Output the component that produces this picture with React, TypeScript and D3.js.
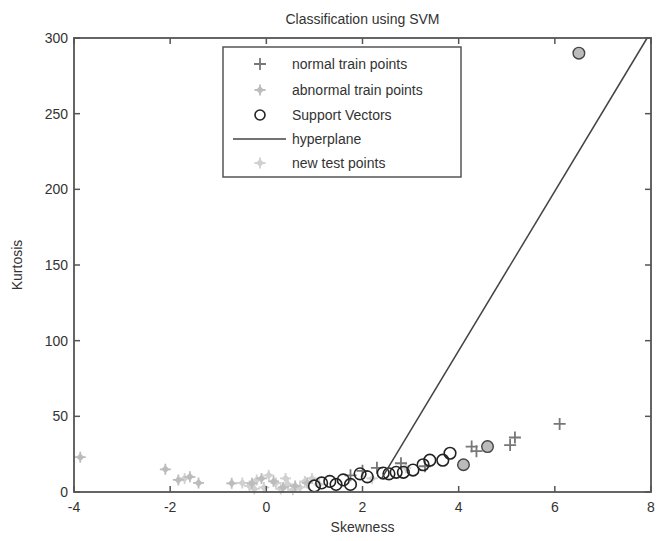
import React from "react";
import * as d3 from "d3";

const xTicks = [-4, -2, 0, 2, 4, 6, 8];
const yTicks = [0, 50, 100, 150, 200, 250, 300];

const normalTrain: [number, number][] = [
  [2.0, 14], [2.3, 16], [2.8, 19], [3.3, 17], [4.27, 30], [4.37, 27],
  [5.07, 31], [5.17, 36], [6.1, 45], [1.75, 11],
];

const abnormalTrain: [number, number][] = [
  [-3.87, 23], [-2.1, 15], [-1.83, 8], [-1.59, 10], [-1.41, 6],
  [-0.72, 5.7], [-0.3, 5.7], [-0.1, 9], [0.15, 7], [0.35, 3], [0.6, 4],
  [0.85, 6],
];

const newTest: [number, number][] = [
  [-0.5, 6], [-0.35, 4], [-0.2, 8], [-0.05, 3], [0.05, 11], [0.2, 6],
  [0.3, 2], [0.45, 5], [0.55, 1.5], [0.7, 3], [0.8, 7], [0.95, 9],
  [1.1, 5], [-1.7, 9], [2.2, 9], [2.9, 16], [0.4, 9], [-0.25, 2],
];

const supportVectors: [number, number][] = [
  [1.0, 4], [1.15, 6], [1.32, 7], [1.45, 5], [1.6, 8], [1.75, 5],
  [1.95, 12], [2.1, 10], [2.43, 12.5], [2.55, 12], [2.7, 13], [2.85, 13],
  [3.05, 14.5], [3.26, 18], [3.4, 21], [3.67, 21], [3.82, 25.6],
];

const filledCircles: [number, number][] = [
  [4.1, 18], [4.6, 30], [6.5, 290],
];

const hyperplane: [number, number][] = [
  [2.4, 9], [7.92, 300],
];

const W = 661;
const H = 541;
const left = 74, right = 651, top = 38, bottom = 492;
const axisColor = "#555";
const textColor = "#333";
const font = "'Liberation Sans', Arial, sans-serif";

function Plus({ x, y, color }: { x: number; y: number; color: string }) {
  const s = 6;
  return (
    <path d={`M${x - s},${y}H${x + s}M${x},${y - s}V${y + s}`} stroke={color} strokeWidth={1.8} fill="none" />
  );
}

function Star({ x, y, color }: { x: number; y: number; color: string }) {
  const s = 5.5;
  const d = 3.5;
  return (
    <g>
      <path d={`M${x},${y - d - 0.5}L${x + d + 0.5},${y}L${x},${y + d + 0.5}L${x - d - 0.5},${y}Z`} fill={color} stroke="none" />
      <path
        d={`M${x - s},${y}H${x + s}M${x},${y - s}V${y + s}`}
        stroke={color}
        strokeWidth={1.8}
        fill="none"
      />
    </g>
  );
}

export default function App() {
  const x = d3.scaleLinear().domain([-4, 8]).range([left, right]);
  const y = d3.scaleLinear().domain([0, 300]).range([bottom, top]);
  const line = d3.line<[number, number]>().x((d) => x(d[0])).y((d) => y(d[1]));

  const lx = 223, ly = 47, lw = 238, lh = 130;
  const rows = [64, 90, 115, 139, 163];
  const mx = 260, tx = 292;

  return (
    <svg width={W} height={H} style={{ position: "absolute", left: 0, top: 0, background: "#fff" }} fontFamily={font}>
      <rect x={0} y={0} width={W} height={H} fill="#fff" />
      <text x={(left + right) / 2} y={24} textAnchor="middle" fontSize={14} fill={textColor}>
        Classification using SVM
      </text>

      {/* data */}
      <g>
        {newTest.map((d, i) => (
          <Star key={"t" + i} x={x(d[0])} y={y(d[1])} color="#d0d0d0" />
        ))}
        {abnormalTrain.map((d, i) => (
          <Star key={"a" + i} x={x(d[0])} y={y(d[1])} color="#bcbcbc" />
        ))}
        {normalTrain.map((d, i) => (
          <Plus key={"n" + i} x={x(d[0])} y={y(d[1])} color="#777" />
        ))}
        {supportVectors.map((d, i) => (
          <circle key={"s" + i} cx={x(d[0])} cy={y(d[1])} r={5.8} fill="none" stroke="#222" strokeWidth={1.6} />
        ))}
        {filledCircles.map((d, i) => (
          <circle key={"f" + i} cx={x(d[0])} cy={y(d[1])} r={5.8} fill="#bbb" stroke="#444" strokeWidth={1.4} />
        ))}
        <path d={line(hyperplane) || ""} stroke="#444" strokeWidth={1.5} fill="none" />
      </g>

      {/* axes box */}
      <rect x={left} y={top} width={right - left} height={bottom - top} fill="none" stroke={axisColor} strokeWidth={1.8} />
      {xTicks.map((t) => (
        <g key={"xt" + t}>
          <line x1={x(t)} x2={x(t)} y1={bottom} y2={bottom - 6} stroke={axisColor} strokeWidth={1.5} />
          <line x1={x(t)} x2={x(t)} y1={top} y2={top + 6} stroke={axisColor} strokeWidth={1.5} />
          <text x={x(t)} y={bottom + 20} textAnchor="middle" fontSize={14} fill={textColor}>
            {t}
          </text>
        </g>
      ))}
      {yTicks.map((t) => (
        <g key={"yt" + t}>
          <line x1={left} x2={left + 6} y1={y(t)} y2={y(t)} stroke={axisColor} strokeWidth={1.5} />
          <line x1={right} x2={right - 6} y1={y(t)} y2={y(t)} stroke={axisColor} strokeWidth={1.5} />
          <text x={left - 6} y={y(t) + 5} textAnchor="end" fontSize={14} fill={textColor}>
            {t}
          </text>
        </g>
      ))}
      <text x={(left + right) / 2} y={532} textAnchor="middle" fontSize={14} fill={textColor}>
        Skewness
      </text>
      <text transform={`translate(22,${(top + bottom) / 2}) rotate(-90)`} textAnchor="middle" fontSize={14} fill={textColor}>
        Kurtosis
      </text>

      {/* legend */}
      <rect x={lx} y={ly} width={lw} height={lh} fill="#fff" stroke={axisColor} strokeWidth={1.5} />
      <Plus x={mx} y={rows[0]} color="#777" />
      <text x={tx} y={rows[0] + 5} fontSize={14} fill={textColor}>normal train points</text>
      <Star x={mx} y={rows[1]} color="#bcbcbc" />
      <text x={tx} y={rows[1] + 5} fontSize={14} fill={textColor}>abnormal train points</text>
      <circle cx={mx} cy={rows[2]} r={5} fill="none" stroke="#222" strokeWidth={1.6} />
      <text x={tx} y={rows[2] + 5} fontSize={14} fill={textColor}>Support Vectors</text>
      <line x1={233} x2={286} y1={rows[3]} y2={rows[3]} stroke="#444" strokeWidth={1.5} />
      <text x={tx} y={rows[3] + 5} fontSize={14} fill={textColor}>hyperplane</text>
      <Star x={mx} y={rows[4]} color="#d0d0d0" />
      <text x={tx} y={rows[4] + 5} fontSize={14} fill={textColor}>new test points</text>
    </svg>
  );
}
